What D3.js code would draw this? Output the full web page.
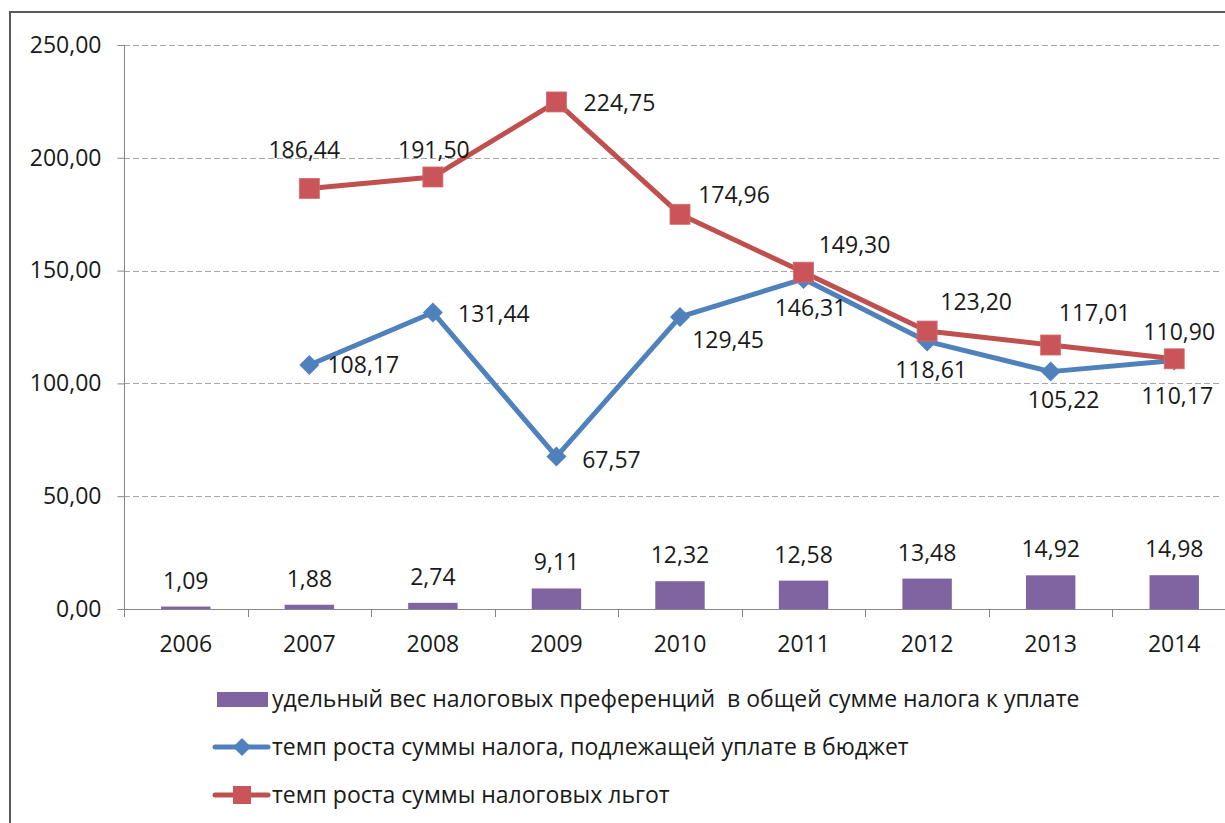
<!DOCTYPE html>
<html><head><meta charset="utf-8">
<script src="https://cdn.jsdelivr.net/npm/d3@7"></script>
<style>
html,body{margin:0;padding:0;background:#fff;}
svg{display:block;font-family:"Open Sans","Noto Sans",sans-serif;}
</style></head>
<body><svg id="c" width="1225" height="823"></svg>
<script>
const years = ["2006","2007","2008","2009","2010","2011","2012","2013","2014"];
const shareValues = [1.09, 1.88, 2.74, 9.11, 12.32, 12.58, 13.48, 14.92, 14.98];
const taxGrowth = [null, 108.17, 131.44, 67.57, 129.45, 146.31, 118.61, 105.22, 110.17];
const benefitGrowth = [null, 186.44, 191.50, 224.75, 174.96, 149.30, 123.20, 117.01, 110.90];
const yTicks = [0, 50, 100, 150, 200, 250];
const seriesNames = [
  "удельный вес налоговых преференций  в общей сумме налога к уплате",
  "темп роста суммы налога, подлежащей уплате в бюджет",
  "темп роста суммы налоговых льгот"
];
// label placement (layout, not data): offsets of label centre from point
const blueLabelOffset = [null,[54,0],[61,1],[55,3],[48,23],[7,29],[4,29],[13,28],[3,35]];
const redLabelOffset = [null,[-5,-38],[1,-27],[63,1],[54,-19],[51,-27],[49,-29],[44,-32],[5,-27]];

const fmt = v => v.toFixed(2).replace(".", ",");
const svg = d3.select("#c");
const C = {purple:"#8064A2", blue:"#4F81BD", red:"#C0504D", text:"#1a1a1a", axis:"#868686", grid:"#a6a6a6"};
const FS = 23;

// frame
svg.append("line").attr("x1",10).attr("x2",10).attr("y1",12).attr("y2",823).attr("stroke","#595959").attr("stroke-width",2);
svg.append("line").attr("x1",9).attr("x2",1225).attr("y1",12).attr("y2",12).attr("stroke","#595959").attr("stroke-width",2);

const x = d3.scaleBand().domain(years).range([124, 1236]).paddingInner(0.6).paddingOuter(0.3);
const xc = d => x(d) + x.bandwidth()/2;
const step = (1236-124)/years.length;
const y = d3.scaleLinear().domain([0,250]).range([609,45]);

// gridlines
svg.append("g").selectAll("line").data(yTicks.filter(t=>t>0)).join("line")
  .attr("x1",124).attr("x2",1220).attr("y1",d=>Math.round(y(d))+0.5).attr("y2",d=>Math.round(y(d))+0.5)
  .attr("stroke",C.grid).attr("stroke-width",1).attr("stroke-dasharray","6,3");

// y axis
const yAxis = d3.axisLeft(y).tickValues(yTicks).tickFormat(fmt).tickSize(7).tickPadding(16);
const gy = svg.append("g").attr("transform","translate(124.5,0)").call(yAxis);
gy.select(".domain").attr("stroke",C.axis).attr("d","M0,45V609");
gy.selectAll(".tick line").attr("stroke",C.axis);
gy.selectAll(".tick text").attr("font-size",FS).attr("fill",C.text).attr("font-family","Open Sans");

// x axis line + ticks at boundaries
svg.append("line").attr("x1",124).attr("x2",1236).attr("y1",609.5).attr("y2",609.5).attr("stroke",C.axis);
svg.append("g").selectAll("line").data(d3.range(years.length+1)).join("line")
  .attr("x1",i=>Math.round(124+i*step)+0.5).attr("x2",i=>Math.round(124+i*step)+0.5)
  .attr("y1",609).attr("y2",617).attr("stroke",C.axis);
svg.append("g").selectAll("text").data(years).join("text")
  .attr("x",d=>xc(d)).attr("y",652).attr("text-anchor","middle")
  .attr("font-size",FS).attr("fill",C.text).text(d=>d);

// bars
svg.append("g").selectAll("rect").data(shareValues).join("rect")
  .attr("x",(d,i)=>x(years[i])).attr("width",x.bandwidth())
  .attr("y",d=>y(d)).attr("height",d=>y(0)-y(d)).attr("fill",C.purple);
svg.append("g").selectAll("text").data(shareValues).join("text")
  .attr("x",(d,i)=>xc(years[i])).attr("y",d=>y(d)-26).attr("dy","0.35em")
  .attr("text-anchor","middle").attr("font-size",FS).attr("fill",C.text).text(fmt);

// lines
function drawLine(vals, color, marker){
  const pts = vals.map((v,i)=>({v, i})).filter(p=>p.v!=null);
  const line = d3.line().x(p=>xc(years[p.i])).y(p=>y(p.v));
  svg.append("path").datum(pts).attr("d",line).attr("fill","none")
    .attr("stroke",color).attr("stroke-width",5).attr("stroke-linejoin","round");
  const g = svg.append("g");
  pts.forEach(p=>{
    const cx = xc(years[p.i]), cy = y(p.v);
    if(marker==="diamond"){
      g.append("path").attr("d",`M${cx},${cy-10}L${cx+10},${cy}L${cx},${cy+10}L${cx-10},${cy}Z`).attr("fill",color);
    } else {
      g.append("rect").attr("x",cx-10).attr("y",cy-10).attr("width",20).attr("height",20).attr("fill","#C9555A").attr("stroke","#d46a6a").attr("stroke-width",0.8);
    }
  });
  return pts;
}
const bluePts = drawLine(taxGrowth, C.blue, "diamond");
const redPts = drawLine(benefitGrowth, C.red, "square");
function labels(pts, offs){
  svg.append("g").selectAll("text").data(pts).join("text")
    .attr("x",p=>xc(years[p.i])+offs[p.i][0]).attr("y",p=>y(p.v)+offs[p.i][1]).attr("dy","0.35em")
    .attr("text-anchor","middle").attr("font-size",FS).attr("fill",C.text).text(p=>fmt(p.v));
}
labels(bluePts, blueLabelOffset);
labels(redPts, redLabelOffset);

// legend
const lg = svg.append("g");
const rows = [699, 747, 795];
lg.append("rect").attr("x",217).attr("y",692).attr("width",51).attr("height",15).attr("fill",C.purple);
lg.append("line").attr("x1",215).attr("x2",268).attr("y1",rows[1]).attr("y2",rows[1]).attr("stroke",C.blue).attr("stroke-width",5).attr("stroke-linecap","round");
lg.append("path").attr("d",`M242,${rows[1]-9}L251,${rows[1]}L242,${rows[1]+9}L233,${rows[1]}Z`).attr("fill",C.blue);
lg.append("line").attr("x1",215).attr("x2",268).attr("y1",rows[2]).attr("y2",rows[2]).attr("stroke",C.red).attr("stroke-width",5).attr("stroke-linecap","round");
lg.append("rect").attr("x",233).attr("y",rows[2]-9).attr("width",18).attr("height",18).attr("fill","#C9555A");
lg.selectAll("text").data(seriesNames).join("text")
  .attr("x",272).attr("y",(d,i)=>rows[i]).attr("dy","0.35em")
  .attr("font-size",FS).attr("fill",C.text).attr("xml:space","preserve").style("white-space","pre").text(d=>d);
</script></body></html>
